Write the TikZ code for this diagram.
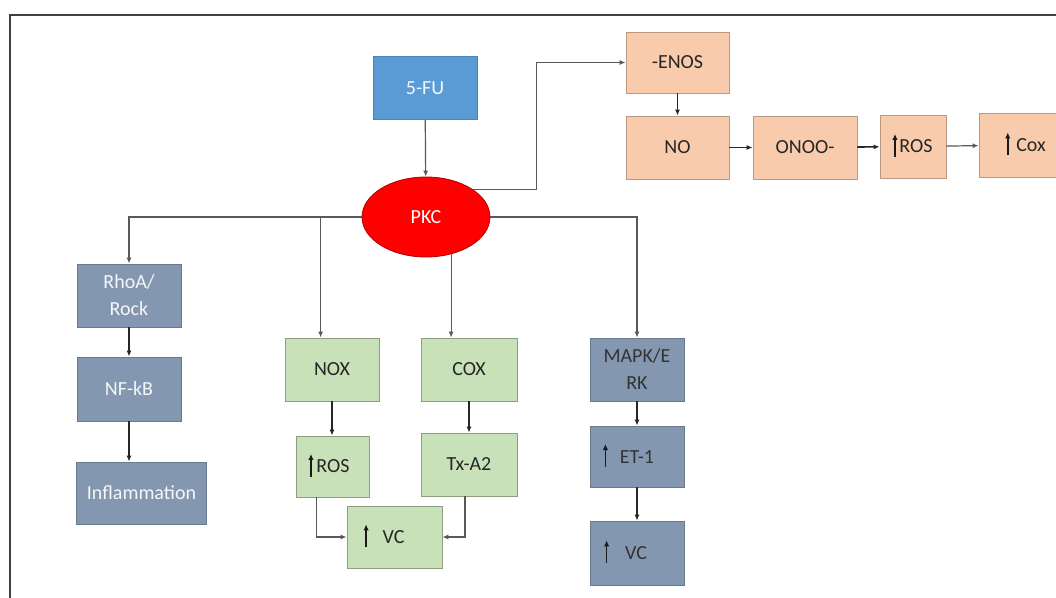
\documentclass[tikz,border=0pt]{standalone}
\usepackage{fontspec}
\setmainfont{Carlito}
\usepackage{xcolor}
\usepackage{tikz}
\usetikzlibrary{arrows.meta, calc, positioning, shapes.geometric}

\definecolor{fuBlue}{HTML}{5B9BD5}
\definecolor{pkcRed}{HTML}{FF0000}
\definecolor{slateBox}{HTML}{8497B0}
\definecolor{greenBox}{HTML}{C9E1B9}
\definecolor{peachBox}{HTML}{F8CBAD}
% small heavy up arrow used inside the boxes
\newcommand{\upar}{\tikz[baseline=0pt]{\useasboundingbox (-1.5pt,0pt) rectangle (1.5pt,13pt);
  \draw[line width=1.6pt, black!90, -{Latex[length=6pt,width=5.5pt]}] (0pt,-4pt) -- (0pt,19pt);}}

\begin{document}
\begin{tikzpicture}[x=1pt, y=-1pt, every node/.style={align=center, font=\fontsize{20}{27}\selectfont},
  box/.style={draw, rectangle, inner sep=0pt, minimum height=63pt, line width=0.8pt},
  slatebox/.style={box, fill=slateBox, draw=slateBox!80!black},
  greenbox/.style={box, fill=greenBox, draw=greenBox!70!black, text=black!85},
  peachbox/.style={box, fill=peachBox, draw=peachBox!75!black, text=black!85},
  link/.style={draw=black!65, line width=1.2pt, -{Latex[length=6pt,width=5pt]}},
  flow/.style={draw=black!85, line width=1.6pt, -{Latex[length=6pt,width=5pt]}}]
\clip (0,0) rectangle (1056,597);
\draw[black!75, line width=1.2pt] (10,600) -- (10,15) -- (1060,15);

\node[box, fill=fuBlue, draw=fuBlue!85!black, minimum width=104pt, text=white!92!fuBlue] (nFU) at (425,88) {5-FU};
\node[ellipse, draw=red!70!black, fill=pkcRed, line width=0.8pt, minimum width=128pt, minimum height=80pt, text=white] (nPKC) at (426,217) {PKC};

% eNOS branch
\node[peachbox, minimum width=103pt, minimum height=61pt] (nENOS) at (677.5,62.5) {-ENOS};
\node[peachbox, minimum width=103pt] (nNO) at (677.5,147.5) {NO};
\node[peachbox, minimum width=104pt] (nONOO) at (805,147.5) {ONOO-};
\node[peachbox, minimum width=66pt] (nROSa) at (913,146.5) {\upar\hspace{3pt}ROS};
\node[peachbox, minimum width=94pt, minimum height=64pt] (nCox) at (1026,145) {\upar\hspace{7pt}Cox};

% RhoA branch
\node[slatebox, minimum width=104pt, text=white!92!slateBox] (nRho) at (129,295.5) {RhoA/\\Rock};
\node[slatebox, minimum width=104pt, minimum height=64pt, text=white!92!slateBox] (nNFkB) at (129,389) {NF-kB};
\node[slatebox, minimum width=130pt, minimum height=62pt, text=white!92!slateBox] (nInfl) at (141.5,493) {Inflammation};

% NOX / COX branch
\node[greenbox, minimum width=94pt] (nNOX) at (332,369.5) {NOX};
\node[greenbox, minimum width=96pt] (nCOX) at (469,369.5) {COX};
\node[greenbox, minimum width=73pt, minimum height=61pt] (nROSb) at (332.5,466.5) {\upar\hspace{4pt}ROS\hspace{6pt}};
\node[greenbox, minimum width=96pt] (nTXA) at (469,464.5) {Tx-A2};
\node[greenbox, minimum width=95pt, minimum height=62pt] (nVCa) at (394.5,537) {\upar\hspace{15pt}VC\hspace{20pt}};

% MAPK branch
\node[slatebox, minimum width=94pt, text=black!80] (nMAPK) at (637,369.5) {MAPK/E\\RK};
\node[slatebox, minimum width=94pt, minimum height=61pt, text=black!80] (nET) at (637,456.5) {\upar\hspace{13pt}ET-1\hspace{16pt}};
\node[slatebox, minimum width=94pt, minimum height=64pt, text=black!80] (nVCb) at (637,553) {\upar\hspace{17pt}VC\hspace{22pt}};

\draw[link] (nFU) -- (nPKC);
\draw[link] (nPKC.30) -- ++(63,0) |- (nENOS);
\draw[link] (nPKC.east) -| (nMAPK);
\draw[link] (nPKC.west) -| (nRho);
\draw[link] (nPKC.west) ++(-41,0) coordinate (jNOX) -- (jNOX |- nNOX.north);
\draw[link] (nPKC.-56) -- (nPKC.-56 |- nCOX.north);

\draw[flow] (nENOS) -- (nNO);
\draw[flow] (nNO) -- (nONOO);
\draw[flow] (nONOO) -- (nROSa);
\draw[link] (nROSa) -- (nCox);

\draw[flow] (nRho) -- (nNFkB);
\draw[flow] (nNFkB.south) -- (nNFkB.south |- nInfl.north);

\draw[flow] (nNOX.south) -- (nNOX.south |- nROSb.north);
\draw[flow] (nCOX) -- (nTXA);
\draw[link] ($(nROSb.south)+(-16,0)$) |- (nVCa);
\draw[link] ($(nTXA.south)+(-4,0)$) |- (nVCa);

\draw[flow] (nMAPK) -- (nET);
\draw[flow] (nET) -- (nVCb);
\end{tikzpicture}
\end{document}
